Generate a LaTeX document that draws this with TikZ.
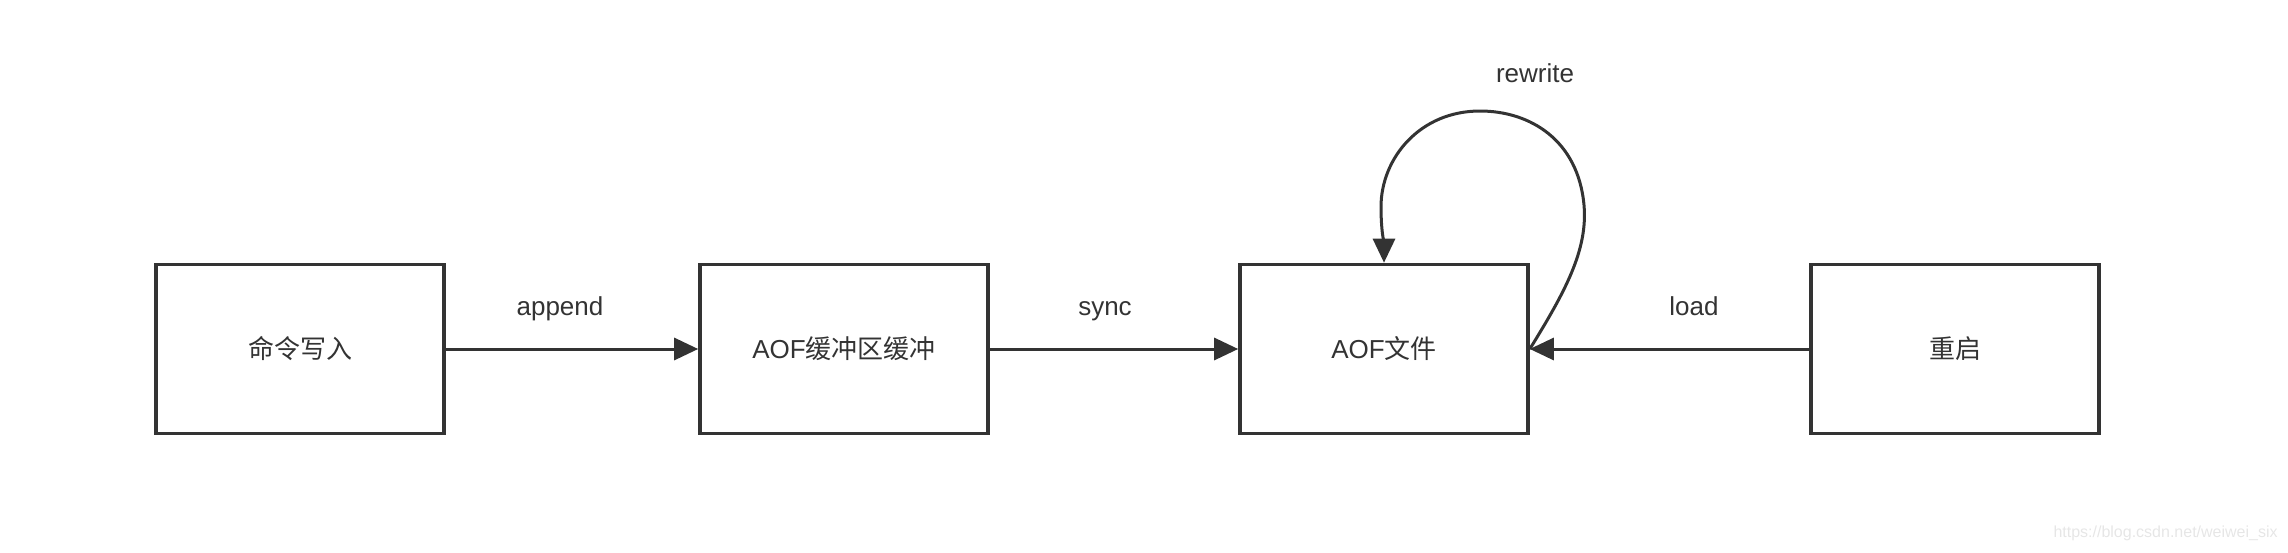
\documentclass[tikz,border=0pt]{standalone}
\usepackage{fontspec}
\setmainfont{Liberation Sans}
\newfontfamily\cjk{Noto Sans CJK SC}
\usetikzlibrary{arrows.meta}
\definecolor{ink}{HTML}{333333}
\definecolor{wm}{HTML}{E6E6E6}
\begin{document}
\begin{tikzpicture}[x=0.5pt,y=-0.5pt,
  box/.style={draw=ink,line width=1.8pt,minimum width=144pt,minimum height=84.5pt,inner sep=0pt,
    text=ink,font=\fontsize{13}{15}\selectfont},
  conn/.style={draw=ink,line width=1.5pt,-{Triangle[length=12pt,width=11pt]}},
  lbl/.style={text=ink,font=\fontsize{13}{15}\selectfont,inner sep=0pt,anchor=base}]
\useasboundingbox (0,0) rectangle (2288,552);
\node[box] (b1) at (300,349) {\cjk 命令写入};
\node[box] (b2) at (844,349) {AOF{\cjk 缓冲区缓冲}};
\node[box] (b3) at (1384,349) {AOF{\cjk 文件}};
\node[box] (b4) at (1955,349) {\cjk 重启};
\draw[conn] (b1) -- (b2);
\draw[conn] (b2) -- (b3);
\draw[conn] (b4) -- (b3);
\node[lbl] (la) at (560,315) {append};
\node[lbl] (ls) at (1105,315) {sync};
\node[lbl] (ll) at (1694,315) {load};
\node[lbl] (lr) at (1535,82) {rewrite};
\draw[conn] (b3.east) .. controls (1565,292) and (1588,250) .. (1584,205)
  .. controls (1578,140) and (1530,111) .. (1480,111)
  .. controls (1420,111) and (1381,158) .. (1381,207)
  .. controls (1381,230) and (1384,245) .. (b3.north);
\node[text=wm,font=\fontsize{8}{10}\selectfont,anchor=east,inner sep=0pt] (wmk) at (2278,533) {https://blog.csdn.net/weiwei\_six};
\end{tikzpicture}
\end{document}
